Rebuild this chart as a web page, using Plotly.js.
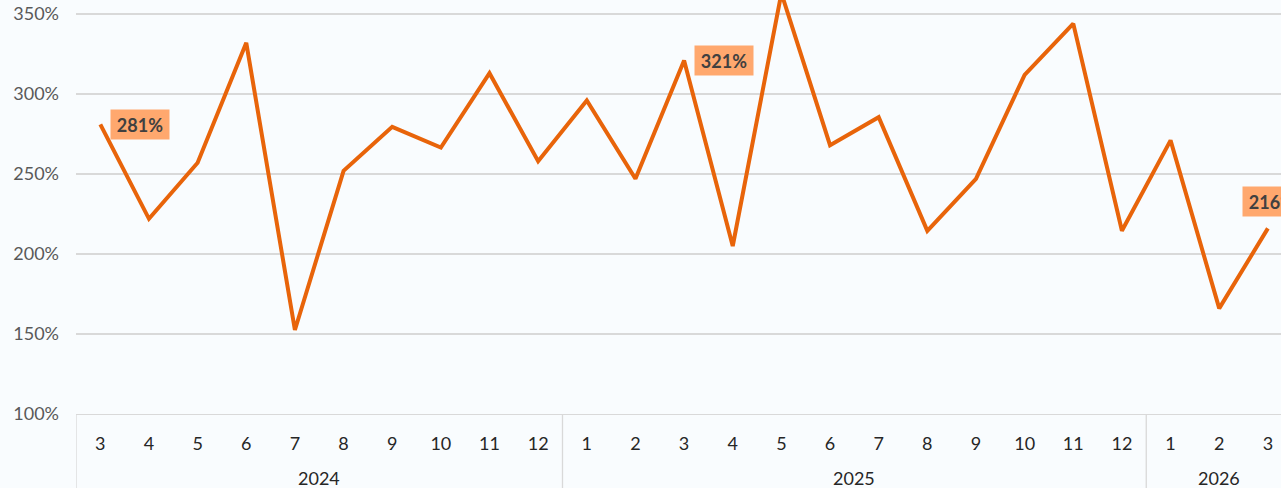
<!DOCTYPE html>
<html><head><meta charset="utf-8">
<script src="https://cdn.plot.ly/plotly-3.0.1.min.js"></script>
<style>html,body{margin:0;padding:0;background:#F9FCFE;overflow:hidden}</style>
</head><body><div id="chart" style="width:1281px;height:488px"></div>
<script>
// ---- data ----
const years  = ['2024','2024','2024','2024','2024','2024','2024','2024','2024','2024',
                '2025','2025','2025','2025','2025','2025','2025','2025','2025','2025','2025','2025',
                '2026','2026','2026'];
const months = ['3','4','5','6','7','8','9','10','11','12',
                '1','2','3','4','5','6','7','8','9','10','11','12',
                '1','2','3'];
const ratioPct = [281, 222, 257, 332, 152.5, 252, 279.5, 266.5, 313, 258,
                  296, 247, 321, 205, 363, 268, 285.5, 214.5, 247, 312, 344, 214.5,
                  271, 166, 216];
const labelIdx = [0, 12, 24];

// ---- build ----
const xIdx = months.map((_, i) => i);
const LINE = '#E8640A';
const GRID = '#D9D9D9';

const trace = {
  type: 'scatter', mode: 'lines',
  x: xIdx, y: ratioPct,
  line: {color: LINE, width: 4, shape: 'linear'},
  hoverinfo: 'skip', showlegend: false, cliponaxis: true
};

// year groups
const groups = [];
years.forEach((y, i) => {
  if (!groups.length || groups[groups.length - 1].year !== y) groups.push({year: y, start: i, end: i});
  else groups[groups.length - 1].end = i;
});

const shapes = groups.map(g => ({
  type: 'line', xref: 'x', yref: 'paper',
  x0: g.start - 0.5, x1: g.start - 0.5, y0: 0, y1: -0.5,
  line: {color: GRID, width: 1.3}, layer: 'above'
}));

const annotations = groups.map(g => ({
  xref: 'x', yref: 'paper', x: (g.start + g.end) / 2, y: 0,
  yanchor: 'middle', yshift: -64, showarrow: false,
  text: g.year, font: {family: 'Lato, "Open Sans", sans-serif', size: 18, color: '#262626'}
}));

labelIdx.forEach((i, k) => {
  const last = i === ratioPct.length - 1;
  annotations.push({
    xref: 'x', yref: 'y', x: i, y: ratioPct[i], showarrow: false,
    text: '<b>' + Math.round(ratioPct[i]) + '%</b>',
    font: {family: 'Lato, "Open Sans", sans-serif', size: 18, color: '#404040'},
    bgcolor: '#FFA86E', borderpad: 4, width: 50, height: 21,
    xanchor: last ? 'center' : 'left', yanchor: last ? 'bottom' : 'middle',
    xshift: last ? 4 : 10, yshift: last ? 11 : 0
  });
});

const layout = {
  width: 1281, height: 488,
  margin: {l: 76, r: 0, t: 0, b: 74, pad: 0},
  paper_bgcolor: '#F9FCFE', plot_bgcolor: '#F9FCFE',
  showlegend: false,
  font: {family: 'Lato, "Open Sans", sans-serif', size: 18},
  xaxis: {
    type: 'linear', range: [-0.5, 24.27],
    tickmode: 'array', tickvals: xIdx, ticktext: months,
    ticks: '', showgrid: false, zeroline: false,
    showline: true, linecolor: GRID, linewidth: 1.3,
    tickfont: {family: 'Lato, "Open Sans", sans-serif', size: 18, color: '#262626'},
    ticklabelstandoff: 13, fixedrange: true
  },
  yaxis: {
    range: [100, 358.75], tickmode: 'linear', tick0: 100, dtick: 50,
    ticksuffix: '%', showgrid: true, gridcolor: GRID, gridwidth: 1.3,
    zeroline: false, showline: false, ticks: '',
    tickfont: {family: 'Lato, "Open Sans", sans-serif', size: 18, color: '#595959'},
    ticklabelstandoff: 16, fixedrange: true
  },
  shapes: shapes,
  annotations: annotations
};

Plotly.newPlot('chart', [trace], layout, {displayModeBar: false, staticPlot: true});
</script></body></html>
